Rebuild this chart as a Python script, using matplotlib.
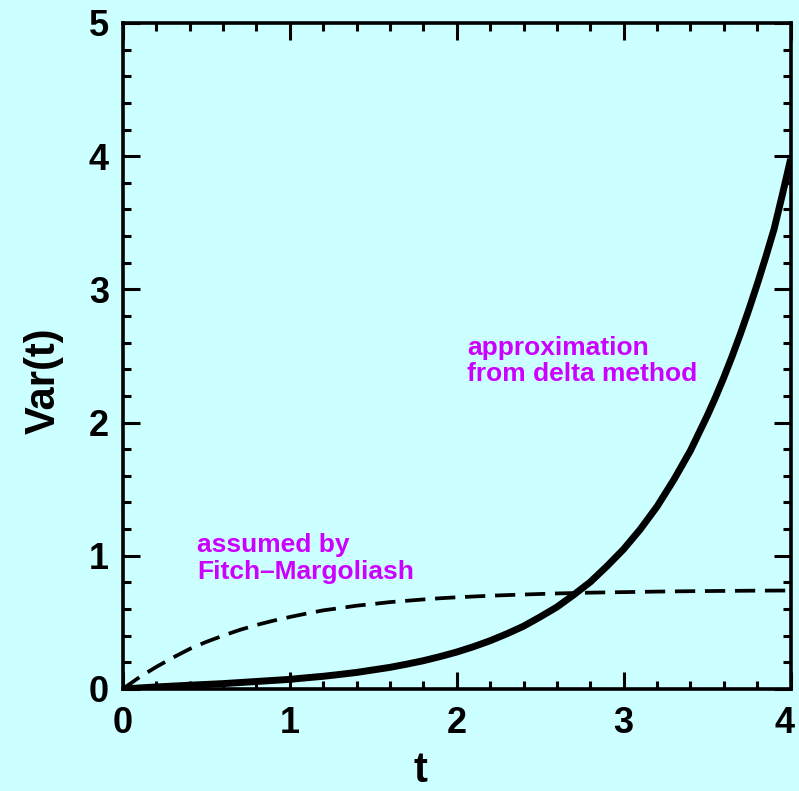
import matplotlib
matplotlib.use('Agg')
import matplotlib.pyplot as plt
from matplotlib import font_manager as fm
from matplotlib.ticker import MultipleLocator
from matplotlib.transforms import ScaledTranslation

# ---- data ----
t_delta = [0.0, 0.2, 0.4, 0.6, 0.8, 1.0, 1.1, 1.2, 1.3, 1.4, 1.5, 1.6, 1.7,
           1.8, 1.9, 2.0, 2.1, 2.2, 2.3, 2.4, 2.5, 2.6, 2.7, 2.8, 2.9, 3.0,
           3.1, 3.2, 3.3, 3.4, 3.5, 3.55, 3.6, 3.65, 3.7, 3.75, 3.8, 3.85,
           3.9, 3.95, 4.0]
delta_var = [0.0, 0.015, 0.028, 0.040, 0.056, 0.072, 0.084, 0.095, 0.109,
             0.124, 0.143, 0.162, 0.186, 0.212, 0.243, 0.277, 0.317, 0.362,
             0.414, 0.471, 0.541, 0.615, 0.706, 0.803, 0.922, 1.05, 1.20,
             1.37, 1.57, 1.79, 2.05, 2.19, 2.34, 2.50, 2.67, 2.85, 3.04,
             3.24, 3.45, 3.71, 3.98]
t_fm = [0.0, 0.1, 0.2, 0.3, 0.4, 0.5, 0.6, 0.7, 0.8, 0.9, 1.0, 1.1, 1.2, 1.3,
        1.4, 1.5, 1.6, 1.7, 1.8, 1.9, 2.0, 2.2, 2.4, 2.6, 2.8, 3.0, 3.2, 3.4,
        3.6, 3.8, 4.0]
fm_var = [0.0, 0.088, 0.165, 0.235, 0.30, 0.353, 0.40, 0.443, 0.48, 0.512,
          0.54, 0.566, 0.59, 0.607, 0.625, 0.638, 0.652, 0.662, 0.672, 0.681,
          0.688, 0.700, 0.709, 0.717, 0.723, 0.727, 0.731, 0.734, 0.736,
          0.738, 0.739]
x_ticks = [0, 1, 2, 3, 4]
y_ticks = [0, 1, 2, 3, 4, 5]
label_fm = ["assumed by", "Fitch\u2013Margoliash"]
label_delta = ["approximation", "from delta method"]


def pick(fams):
    for f in fams:
        try:
            fm.findfont(fm.FontProperties(family=f), fallback_to_default=False)
            return f
        except Exception:
            pass
    return 'DejaVu Sans'


base = pick(['Liberation Sans', 'Arial', 'DejaVu Sans'])
narrow = pick(['Liberation Sans Narrow', 'Arial Narrow', base])

bg = '#ccffff'
mag = '#cc00ff'

fig = plt.figure(figsize=(7.99, 7.91), dpi=100, facecolor=bg)
ax = fig.add_axes([0.1536, 0.129, 0.836, 0.842], facecolor=bg)

ax.plot(t_fm, fm_var, color='black', lw=2.7, dashes=(5.4, 2.6),
        solid_capstyle='butt', dash_capstyle='butt')
ax.plot(t_delta, delta_var, color='black', lw=5.0, solid_capstyle='butt',
        solid_joinstyle='round')

ax.set_xlim(0, 4)
ax.set_ylim(0, 5)
ax.set_xticks(x_ticks)
ax.set_yticks(y_ticks)
ax.xaxis.set_minor_locator(MultipleLocator(0.2))
ax.yaxis.set_minor_locator(MultipleLocator(0.2))
ax.tick_params(which='both', direction='in', top=True, right=True, width=2.2)
ax.tick_params(which='major', length=12)
ax.tick_params(which='minor', length=6)
ax.tick_params(axis='y', which='major', pad=10)
ax.tick_params(axis='x', which='major', pad=12)
for s in ax.spines.values():
    s.set_linewidth(2.6)

ax.set_xticklabels([str(v) for v in x_ticks], fontfamily=narrow,
                   fontweight='bold', fontsize=26)
ax.set_yticklabels([str(v) for v in y_ticks], fontfamily=base,
                   fontweight='bold', fontsize=26)
last = ax.get_xticklabels()[-1]
last.set_transform(last.get_transform() +
                   ScaledTranslation(-6 / 100, 0, fig.dpi_scale_trans))

W, H = 799, 791
fig.text(420 / W, 1 - 771 / H, 't', fontfamily=narrow, fontweight='bold',
         fontsize=30, ha='center', va='center')
fig.text(44 / W, 1 - 381 / H, 'Var(t)', fontfamily=base, fontweight='bold',
         fontsize=30, ha='center', va='center', rotation=90)

# annotations (pixel baselines from the reference)
for i, s in enumerate(label_fm):
    fig.text(197 / W, 1 - (552 + 27 * i) / H, s, fontfamily=base,
             fontweight='bold', fontsize=19, color=mag, ha='left',
             va='baseline')
for i, s in enumerate(label_delta):
    fig.text(467 / W, 1 - (355 + 26 * i) / H, s, fontfamily=base,
             fontweight='bold', fontsize=19, color=mag, ha='left',
             va='baseline')

fig.savefig('out.png', dpi=100, facecolor=bg)
